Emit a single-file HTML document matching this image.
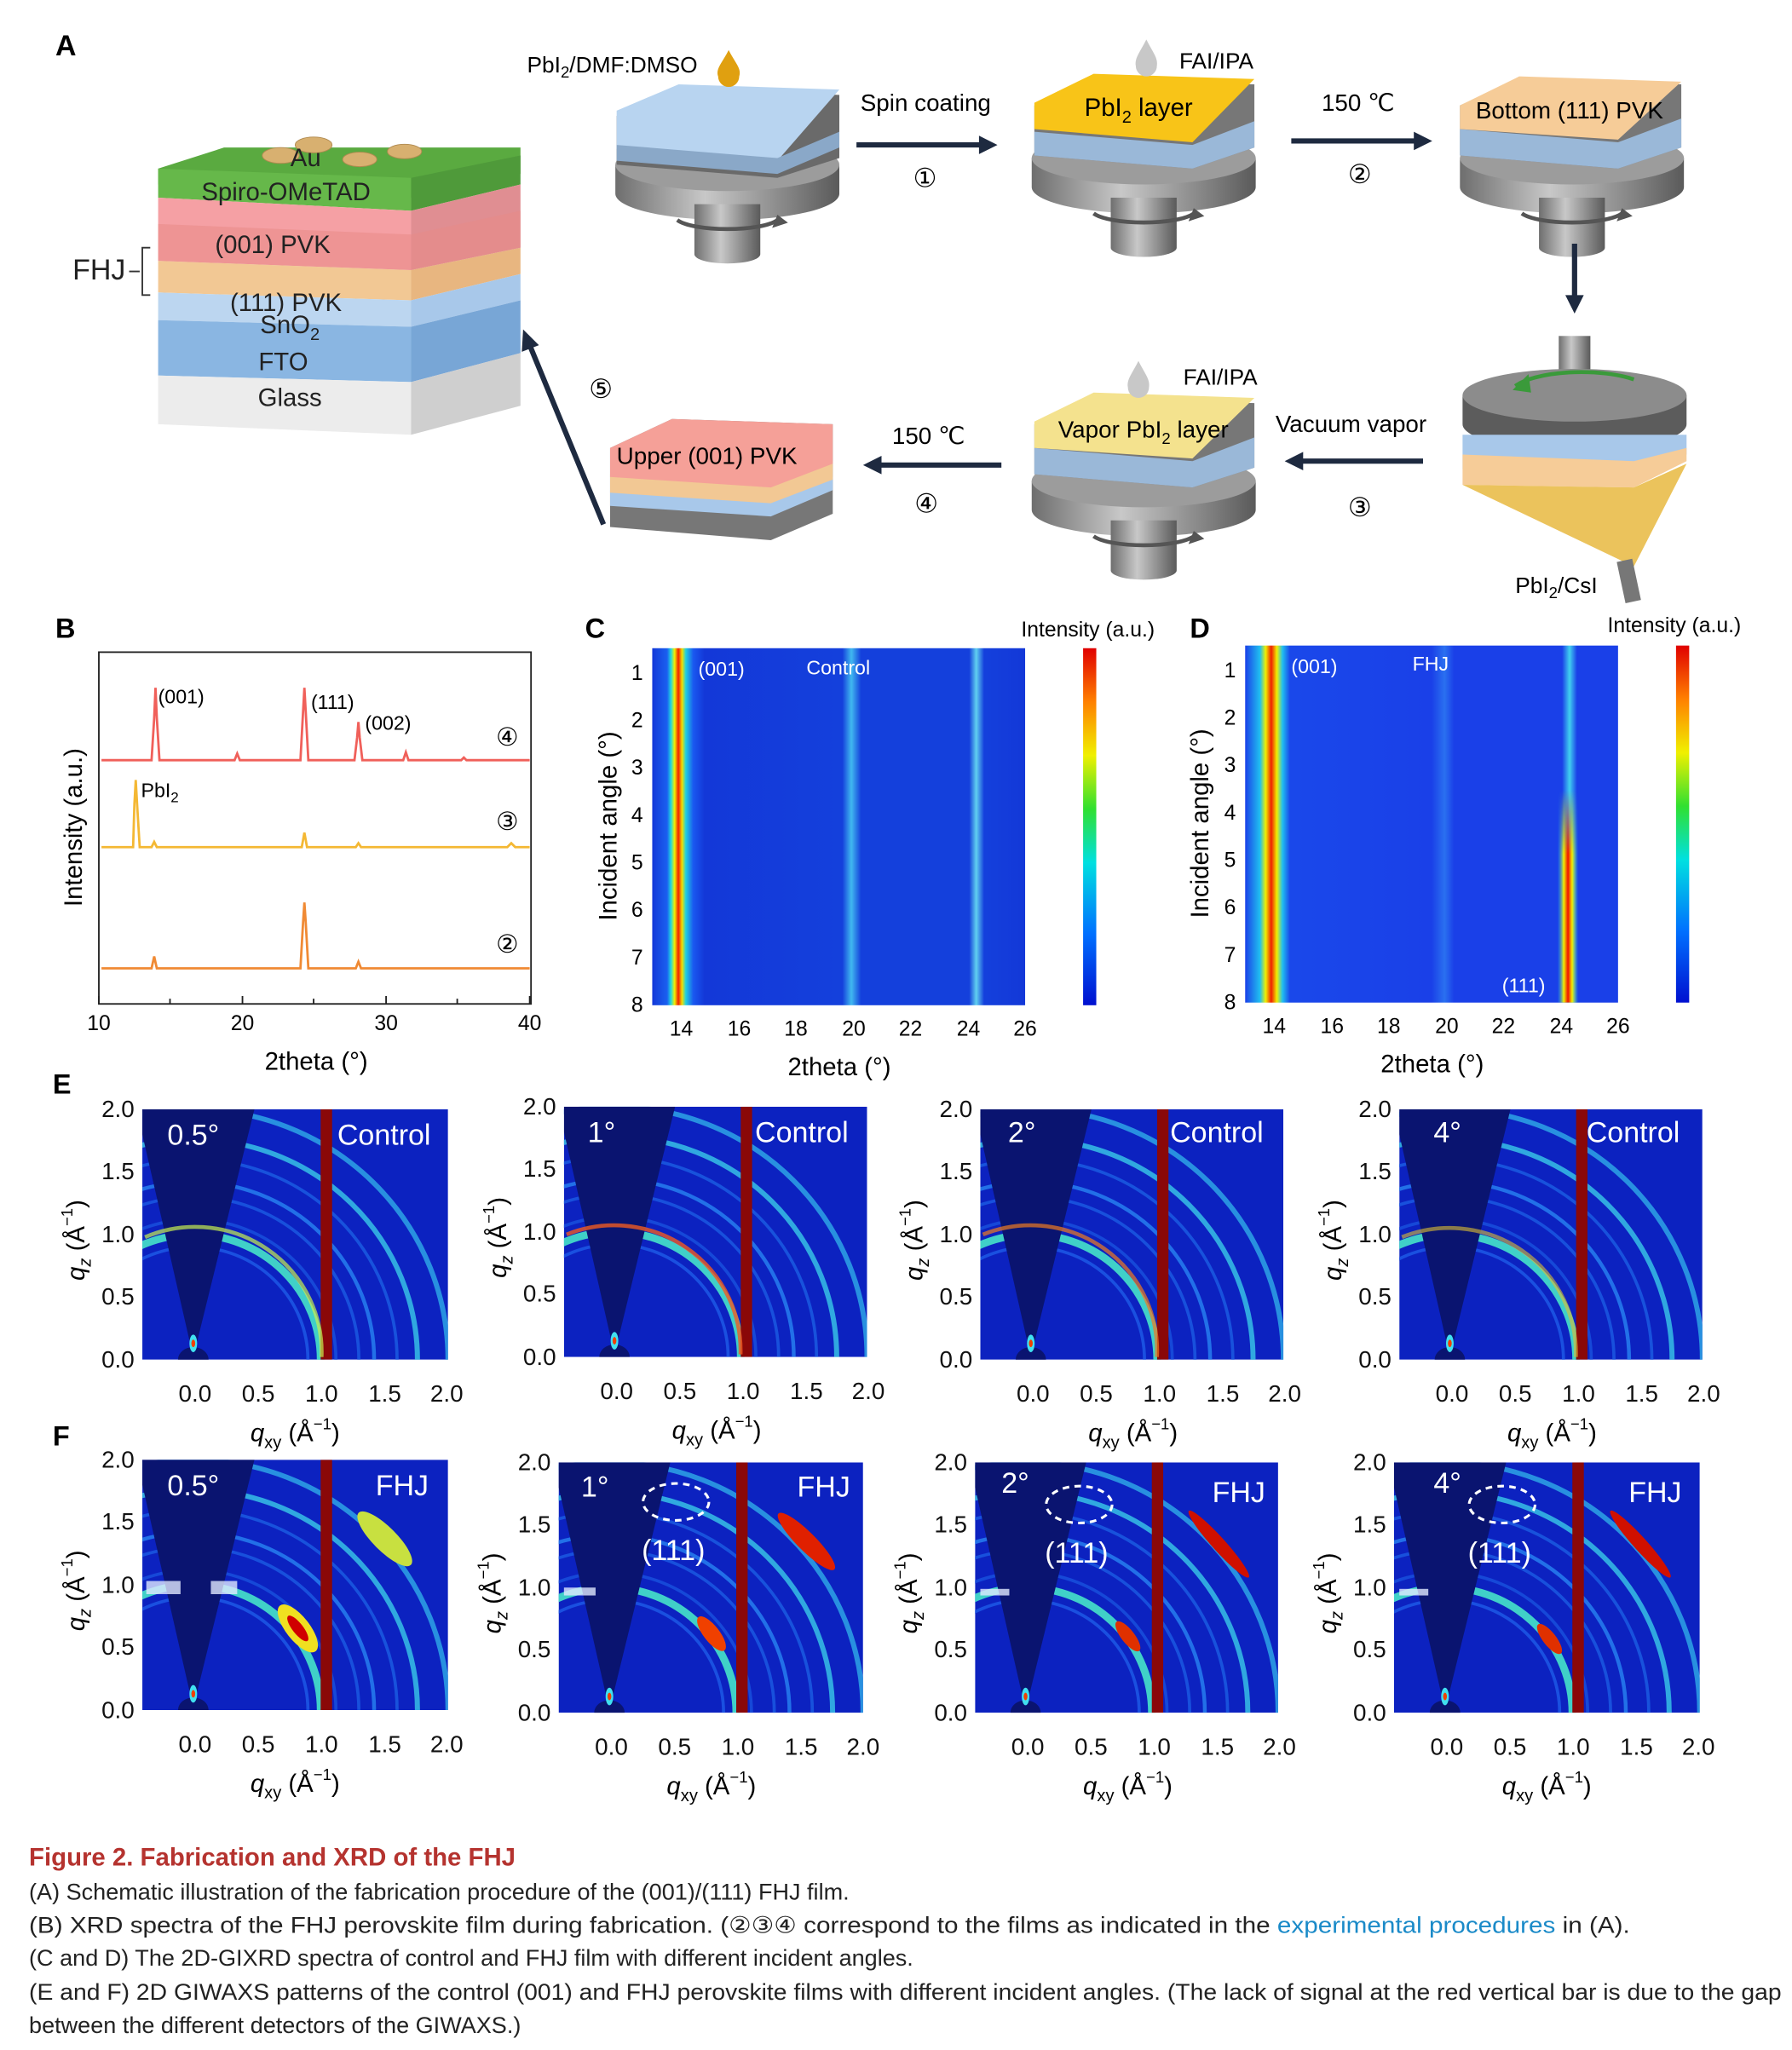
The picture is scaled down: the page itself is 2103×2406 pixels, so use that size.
<!DOCTYPE html>
<html><head><meta charset="utf-8"><style>
html,body{margin:0;padding:0;background:#fff;}
svg{display:block;}
text{font-family:"Liberation Sans",Arial,sans-serif;}
</style></head><body>
<svg width="2103" height="2406" viewBox="0 0 1360 1556" xmlns="http://www.w3.org/2000/svg">
<defs>
<linearGradient id="cb" x1="0" y1="0" x2="0" y2="1">
<stop offset="0" stop-color="#e00000"/><stop offset="0.15" stop-color="#ff8000"/><stop offset="0.3" stop-color="#f0f000"/><stop offset="0.45" stop-color="#30e030"/><stop offset="0.6" stop-color="#00e0e0"/><stop offset="0.8" stop-color="#0070ff"/><stop offset="1" stop-color="#0010d0"/></linearGradient>
<linearGradient id="hc" x1="0" y1="0" x2="1" y2="0">
<stop offset="0" stop-color="#1338d8"/><stop offset="0.04" stop-color="#1a60f0"/><stop offset="0.05" stop-color="#20d8e0"/><stop offset="0.06" stop-color="#f0f000"/><stop offset="0.07" stop-color="#f02000"/><stop offset="0.08" stop-color="#f0e000"/><stop offset="0.09" stop-color="#20d0e0"/><stop offset="0.11" stop-color="#1a58f0"/><stop offset="0.14" stop-color="#1338d8"/>
<stop offset="0.51" stop-color="#1440dc"/><stop offset="0.534" stop-color="#40b8f0"/><stop offset="0.56" stop-color="#1440dc"/>
<stop offset="0.85" stop-color="#1440dc"/><stop offset="0.869" stop-color="#60d0f0"/><stop offset="0.89" stop-color="#1440dc"/><stop offset="1" stop-color="#1338d8"/></linearGradient>
<linearGradient id="hd" x1="0" y1="0" x2="1" y2="0">
<stop offset="0" stop-color="#1a40e8"/><stop offset="0.04" stop-color="#20c0f0"/><stop offset="0.055" stop-color="#f0f000"/><stop offset="0.07" stop-color="#f02000"/><stop offset="0.085" stop-color="#f0f000"/><stop offset="0.1" stop-color="#20c0f0"/><stop offset="0.12" stop-color="#1a48ea"/><stop offset="0.5" stop-color="#1a40e8"/><stop offset="0.535" stop-color="#2a70f0"/><stop offset="0.56" stop-color="#1a40e8"/>
<stop offset="0.85" stop-color="#1a40e8"/><stop offset="0.87" stop-color="#40d0f0"/><stop offset="0.89" stop-color="#1a40e8"/><stop offset="1" stop-color="#1a40e8"/></linearGradient>
<linearGradient id="hd2" x1="0" y1="0" x2="1" y2="0">
<stop offset="0" stop-color="#20c0f0" stop-opacity="0"/><stop offset="0.3" stop-color="#f0f000"/><stop offset="0.5" stop-color="#f01000"/><stop offset="0.7" stop-color="#f0f000"/><stop offset="1" stop-color="#20c0f0" stop-opacity="0"/></linearGradient>
<linearGradient id="fadev" x1="0" y1="0" x2="0" y2="1"><stop offset="0" stop-color="#fff" stop-opacity="0"/><stop offset="0.3" stop-color="#fff" stop-opacity="1"/></linearGradient>
<mask id="fm"><rect x="1180" y="600" width="20" height="161" fill="url(#fadev)"/></mask>
<linearGradient id="gr" x1="0" y1="0" x2="1" y2="0"><stop offset="0" stop-color="#6e6e6e"/><stop offset="0.4" stop-color="#c8c8c8"/><stop offset="1" stop-color="#5a5a5a"/></linearGradient>
<clipPath id="pc"><rect x="0" y="0" width="240" height="200"/></clipPath>
<symbol id="gw" viewBox="0 0 240 200" width="240" height="200" preserveAspectRatio="none" overflow="hidden">
<g clip-path="url(#pc)">
<rect width="240" height="200" fill="#0c22c0"/>
<g fill="none">
<circle cx="40" cy="200" r="90" stroke="#1a50e0" stroke-width="2.5"/>
<circle cx="40" cy="200" r="112" stroke="#1648d8" stroke-width="2.5"/>
<circle cx="40" cy="200" r="130" stroke="#1850dc" stroke-width="2.5"/>
<circle cx="40" cy="200" r="142" stroke="#2270e8" stroke-width="3"/>
<circle cx="40" cy="200" r="160" stroke="#1852dc" stroke-width="2.5"/>
<circle cx="40" cy="200" r="176" stroke="#30a8e0" stroke-width="4"/>
<circle cx="40" cy="200" r="200" stroke="#2890e0" stroke-width="4"/>
<circle cx="40" cy="200" r="100" stroke="#40d0c8" stroke-width="6"/>
</g>
<polygon points="40,198 0,20 0,0 88,0" fill="#0a1470"/>
<ellipse cx="40" cy="200" rx="12" ry="10" fill="#0a1470"/>
<ellipse cx="40" cy="187" rx="3" ry="7" fill="#40e0f0"/>
<ellipse cx="40" cy="187" rx="1.5" ry="3" fill="#f04000"/>
<rect x="140" y="0" width="9" height="200" fill="#8a0808"/>
</g>
</symbol>
<symbol id="ax" overflow="visible">
<g font-size="18" fill="#111" text-anchor="end">
<text x="-6" y="6">2.0</text><text x="-6" y="53">1.5</text><text x="-6" y="101">1.0</text><text x="-6" y="148">0.5</text><text x="-6" y="196">0.0</text></g>
<g font-size="18" fill="#111" text-anchor="middle">
<text x="40" y="222">0.0</text><text x="88" y="222">0.5</text><text x="136" y="222">1.0</text><text x="184" y="222">1.5</text><text x="231" y="222">2.0</text></g>
<text x="82" y="252" font-size="19" font-style="italic">q<tspan font-size="13" dy="5" font-style="normal">xy</tspan><tspan dy="-5" font-style="normal"> (Å</tspan><tspan font-size="12" dy="-9" font-style="normal">−1</tspan><tspan dy="9" font-style="normal">)</tspan></text>
<text transform="translate(-44,130) rotate(-90)" font-size="19"><tspan font-style="italic">q</tspan><tspan font-size="13" dy="5" font-style="italic">z</tspan><tspan dy="-5"> (Å</tspan><tspan font-size="12" dy="-9">−1</tspan><tspan dy="9">)</tspan></text>
</symbol>
<symbol id="spin" overflow="visible">
<path d="M-85,20 L-85,42 A85,20 0 0 0 85,42 L85,20 Z" fill="url(#gr)"/>
<ellipse cx="0" cy="20" rx="85" ry="20" fill="#9c9c9c"/>
<path d="M-25,50 L-25,88 A25,7 0 0 0 25,88 L25,50 Z" fill="url(#gr)"/>
<path d="M-38,62 A40,10 0 0 0 38,62" fill="none" stroke="#555" stroke-width="3"/>
<polygon points="38,58 46,64 34,68" fill="#555"/>
</symbol>
</defs>

<!-- ===== Panel A ===== -->
<text x="42" y="42" font-size="22" font-weight="bold">A</text>
<g>
<polygon points="120,128 170,112 395,112 395,132 312,150 120,140" fill="#5aaa40"/>
<polygon points="120,128 312,135 312,160 120,150" fill="#66b84a"/>
<polygon points="312,135 395,118 395,140 312,160" fill="#4f9a3a"/>
<polygon points="120,150 312,160 312,205 120,198" fill="#f5a0a4"/>
<polygon points="312,160 395,140 395,188 312,205" fill="#e08e92"/>
<polygon points="120,198 312,205 312,228 120,222" fill="#f2c894"/>
<polygon points="312,205 395,188 395,208 312,228" fill="#e8b680"/>
<polygon points="120,170 312,178 395,160 395,188 312,205 120,198" fill="#e88a86" opacity="0.55"/>
<polygon points="120,222 312,228 312,248 120,243" fill="#bcd6f0"/>
<polygon points="312,228 395,208 395,228 312,248" fill="#a8c8ea"/>
<polygon points="120,243 312,248 312,290 120,285" fill="#8ab6e2"/>
<polygon points="312,248 395,228 395,268 312,290" fill="#78a6d6"/>
<polygon points="120,285 312,290 312,330 120,322" fill="#ececec"/>
<polygon points="312,290 395,268 395,308 312,330" fill="#cfcfcf"/>
<g fill="#d8b070" stroke="#b08a50" stroke-width="0.6"><ellipse cx="213" cy="118" rx="14" ry="6"/><ellipse cx="238" cy="110" rx="14" ry="6"/><ellipse cx="273" cy="121" rx="13" ry="5.5"/><ellipse cx="307" cy="115" rx="13" ry="5.5"/></g>
<g font-size="19" fill="#222" text-anchor="middle">
<text x="232" y="126">Au</text><text x="217" y="152">Spiro-OMeTAD</text><text x="207" y="192">(001) PVK</text><text x="217" y="236">(111) PVK</text><text x="220" y="253">SnO<tspan font-size="13" dy="5">2</tspan></text><text x="215" y="281">FTO</text><text x="220" y="308">Glass</text></g>
<text x="55" y="212" font-size="22" fill="#222">FHJ</text>
<path d="M98,206 L106,206 M114,188 L108,188 L108,224 L114,224" fill="none" stroke="#333" stroke-width="1.2"/>
</g>
<use href="#spin" x="552" y="105"/>
<polygon points="468,88 515,68 637,72 637,120 590,135 468,125" fill="#6a6a6a"/>
<polygon points="468,84 515,64 637,68 590,122 468,113" fill="#b8d4f0"/>
<polygon points="468,110 590,120 637,100 637,112 590,132 468,122" fill="#8aa8c8"/>
<path d="M553,38 C548,48 543,52 545,58 A8,8 0 0 0 561,58 C563,52 558,48 553,38Z" fill="#e0a010"/>
<text x="400" y="55" font-size="17">PbI<tspan font-size="12" dy="4">2</tspan><tspan dy="-4">/DMF:DMSO</tspan></text>
<text x="653" y="84" font-size="18">Spin coating</text>
<path d="M650,110 L745,110" stroke="#1e2a40" stroke-width="4"/><polygon points="757,110 743,103 743,117" fill="#1e2a40"/>
<text x="702" y="142" font-size="20" text-anchor="middle">①</text>
<use href="#spin" x="868" y="100"/>
<polygon points="785,80 830,60 952,64 952,112 905,128 785,118" fill="#777"/>
<polygon points="785,100 905,110 952,92 952,112 905,128 785,118" fill="#9ab8d8"/>
<polygon points="785,78 830,56 952,60 905,108 785,98" fill="#f8c418"/>
<path d="M870,30 C865,40 861,44 862,50 A8,8 0 0 0 878,50 C879,44 875,40 870,30Z" fill="#c8c8c8"/>
<text x="895" y="52" font-size="17">FAI/IPA</text>
<text x="823" y="88" font-size="19">PbI<tspan font-size="13" dy="5">2</tspan><tspan dy="-5"> layer</tspan></text>
<text x="1003" y="84" font-size="18">150 ℃</text>
<path d="M980,107 L1075,107" stroke="#1e2a40" stroke-width="4"/><polygon points="1087,107 1073,100 1073,114" fill="#1e2a40"/>
<text x="1032" y="139" font-size="20" text-anchor="middle">②</text>
<use href="#spin" x="1193" y="100"/>
<polygon points="1108,80 1153,60 1276,64 1276,112 1228,128 1108,118" fill="#777"/>
<polygon points="1108,98 1228,108 1276,90 1276,112 1228,128 1108,118" fill="#9ab8d8"/>
<polygon points="1108,80 1153,58 1276,62 1228,106 1108,98" fill="#f6cc98"/>
<text x="1120" y="90" font-size="18">Bottom (111) PVK</text>
<path d="M1195,185 L1195,226" stroke="#1e2a40" stroke-width="4"/><polygon points="1195,238 1188,224 1202,224" fill="#1e2a40"/>
<rect x="1183" y="255" width="24" height="45" fill="url(#gr)"/>
<path d="M1110,300 L1110,322 A85,20 0 0 0 1280,322 L1280,300 Z" fill="#5c5c5c"/>
<ellipse cx="1195" cy="300" rx="85" ry="20" fill="#8c8c8c"/>
<polygon points="1110,330 1280,330 1280,345 1240,362 1110,356" fill="#a8c8ea"/>
<polygon points="1110,345 1240,350 1280,340 1280,350 1240,370 1110,368" fill="#f6cc98"/>
<polygon points="1110,368 1240,370 1280,352 1240,430" fill="#e8b840" opacity="0.85"/>
<rect x="1230" y="425" width="12" height="32" fill="#777" transform="rotate(-12 1236 440)"/>
<path d="M1150,293 A55,18 0 0 1 1240,288" fill="none" stroke="#3a9a3a" stroke-width="3"/><polygon points="1148,296 1160,284 1162,298" fill="#3a9a3a"/>
<text x="1150" y="450" font-size="17">PbI<tspan font-size="12" dy="4">2</tspan><tspan dy="-4">/CsI</tspan></text>
<use href="#spin" x="868" y="345"/>
<polygon points="785,322 830,302 952,306 952,355 905,370 785,360" fill="#777"/>
<polygon points="785,340 905,350 952,332 952,355 905,370 785,360" fill="#9ab8d8"/>
<polygon points="785,320 830,298 952,302 905,348 785,340" fill="#f4e28e"/>
<path d="M864,274 C859,284 855,288 856,294 A8,8 0 0 0 872,294 C873,288 869,284 864,274Z" fill="#c8c8c8"/>
<text x="898" y="292" font-size="17">FAI/IPA</text>
<text x="803" y="332" font-size="18">Vapor PbI<tspan font-size="12" dy="5">2</tspan><tspan dy="-5"> layer</tspan></text>
<text x="968" y="328" font-size="18">Vacuum vapor</text>
<path d="M1080,350 L987,350" stroke="#1e2a40" stroke-width="4"/><polygon points="975,350 989,343 989,357" fill="#1e2a40"/>
<text x="1032" y="392" font-size="20" text-anchor="middle">③</text>
<text x="677" y="337" font-size="18">150 ℃</text>
<path d="M760,353 L667,353" stroke="#1e2a40" stroke-width="4"/><polygon points="655,353 669,346 669,360" fill="#1e2a40"/>
<text x="703" y="389" font-size="20" text-anchor="middle">④</text>
<polygon points="463,340 510,318 632,322 632,390 585,410 463,400" fill="#777"/>
<polygon points="463,372 585,380 632,362 632,372 585,392 463,384" fill="#a8c8ea"/>
<polygon points="463,360 585,368 632,350 632,364 585,382 463,374" fill="#f2c894"/>
<polygon points="463,340 510,318 632,322 632,352 585,370 463,362" fill="#f5a098"/>
<text x="468" y="352" font-size="18">Upper (001) PVK</text>
<path d="M458,398 L402,262" stroke="#1e2a40" stroke-width="4"/><polygon points="397,250 396,267 409,262" fill="#1e2a40"/>
<text x="456" y="302" font-size="20" text-anchor="middle">⑤</text>

<!-- ===== Panel B ===== -->
<text x="42" y="484" font-size="21" font-weight="bold">B</text>
<rect x="75" y="495" width="328" height="267" fill="none" stroke="#222" stroke-width="1.2"/>
<g stroke="#222" stroke-width="1.2"><path d="M75,762 v-6 M129,762 v-4 M184,762 v-6 M238,762 v-4 M293,762 v-6 M347,762 v-4 M402,762 v-6"/></g>
<g font-size="16" text-anchor="middle"><text x="75" y="782">10</text><text x="184" y="782">20</text><text x="293" y="782">30</text><text x="402" y="782">40</text></g>
<text x="240" y="812" font-size="19" text-anchor="middle">2theta (°)</text>
<text transform="translate(62,628) rotate(-90)" font-size="19" text-anchor="middle">Intensity (a.u.)</text>
<polyline fill="none" stroke="#f0605a" stroke-width="1.8" points="77,577 115,577 117,545 118,522 119,545 121,577 178,577 180,572 182,577 228,577 230,540 231,522 232,540 234,577 269,577 271,560 272,548 273,560 275,577 306,577 308,571 310,577 350,577 352,575 354,577 402,577"/>
<polyline fill="none" stroke="#f4b834" stroke-width="1.8" points="77,643 101,643 102,610 103,592 104,610 106,643 115,643 117,639 119,643 229,643 231,632 233,643 270,643 272,640 274,643 385,643 388,640 391,643 402,643"/>
<polyline fill="none" stroke="#f08a34" stroke-width="1.8" points="77,735 115,735 117,726 119,735 228,735 230,700 231,685 232,700 234,735 270,735 272,730 274,735 402,735"/>
<g font-size="15"><text x="120" y="534">(001)</text><text x="236" y="538">(111)</text><text x="277" y="554">(002)</text><text x="107" y="605">PbI<tspan font-size="11" dy="4">2</tspan></text></g>
<g font-size="19" text-anchor="middle"><text x="385" y="566">④</text><text x="385" y="630">③</text><text x="385" y="723">②</text></g>

<!-- ===== Panel C ===== -->
<text x="444" y="484" font-size="21" font-weight="bold">C</text>
<rect x="495" y="492" width="283" height="271" fill="url(#hc)"/>
<rect x="822" y="492" width="10" height="271" fill="url(#cb)"/>
<text x="775" y="483" font-size="16">Intensity (a.u.)</text>
<text x="530" y="513" font-size="15" fill="#fff">(001)</text><text x="612" y="512" font-size="15" fill="#fff">Control</text>
<g font-size="16" text-anchor="end"><text x="488" y="516">1</text><text x="488" y="552">2</text><text x="488" y="588">3</text><text x="488" y="624">4</text><text x="488" y="660">5</text><text x="488" y="696">6</text><text x="488" y="732">7</text><text x="488" y="768">8</text></g>
<g font-size="16" text-anchor="middle"><text x="517" y="786">14</text><text x="561" y="786">16</text><text x="604" y="786">18</text><text x="648" y="786">20</text><text x="691" y="786">22</text><text x="735" y="786">24</text><text x="778" y="786">26</text></g>
<text transform="translate(468,627) rotate(-90)" font-size="19" text-anchor="middle">Incident angle (°)</text>
<text x="637" y="816" font-size="19" text-anchor="middle">2theta (°)</text>

<!-- ===== Panel D ===== -->
<text x="903" y="484" font-size="21" font-weight="bold">D</text>
<rect x="945" y="490" width="283" height="271" fill="url(#hd)"/>
<rect x="1182" y="600" width="16" height="161" fill="url(#hd2)" mask="url(#fm)"/>
<rect x="1272" y="490" width="10" height="271" fill="url(#cb)"/>
<text x="1220" y="480" font-size="16">Intensity (a.u.)</text>
<text x="980" y="511" font-size="15" fill="#fff">(001)</text><text x="1072" y="509" font-size="15" fill="#fff">FHJ</text>
<text x="1140" y="753" font-size="15" fill="#fff">(111)</text>
<g font-size="16" text-anchor="end"><text x="938" y="514">1</text><text x="938" y="550">2</text><text x="938" y="586">3</text><text x="938" y="622">4</text><text x="938" y="658">5</text><text x="938" y="694">6</text><text x="938" y="730">7</text><text x="938" y="766">8</text></g>
<g font-size="16" text-anchor="middle"><text x="967" y="784">14</text><text x="1011" y="784">16</text><text x="1054" y="784">18</text><text x="1098" y="784">20</text><text x="1141" y="784">22</text><text x="1185" y="784">24</text><text x="1228" y="784">26</text></g>
<text transform="translate(917,625) rotate(-90)" font-size="19" text-anchor="middle">Incident angle (°)</text>
<text x="1087" y="814" font-size="19" text-anchor="middle">2theta (°)</text>

<!-- ===== Panel E ===== -->
<text x="40" y="830" font-size="21" font-weight="bold">E</text>
<use href="#gw" x="108" y="842" width="232" height="190"/>
<use href="#gw" x="428" y="840" width="230" height="190"/>
<use href="#gw" x="744" y="842" width="230" height="190"/>
<use href="#gw" x="1062" y="842" width="230" height="190"/>
<g fill="none" stroke-width="3">
<path d="M110,939 A96,95 0 0 1 244,1030" stroke="#c8f050" opacity="0.7"/>
<path d="M430,937 A96,95 0 0 1 562,1028" stroke="#f05a20" opacity="0.8"/>
<path d="M746,937 A96,95 0 0 1 878,1030" stroke="#f07a20" opacity="0.7"/>
<path d="M1064,939 A96,95 0 0 1 1196,1030" stroke="#e0c030" opacity="0.6"/>
</g>
<use href="#ax" x="108" y="842"/><use href="#ax" x="428" y="840"/><use href="#ax" x="744" y="842"/><use href="#ax" x="1062" y="842"/>
<g font-size="22" fill="#fff"><text x="127" y="869">0.5°</text><text x="256" y="869">Control</text>
<text x="446" y="867">1°</text><text x="573" y="867">Control</text>
<text x="765" y="867">2°</text><text x="888" y="867">Control</text>
<text x="1088" y="867">4°</text><text x="1204" y="867">Control</text></g>

<!-- ===== Panel F ===== -->
<text x="40" y="1097" font-size="21" font-weight="bold">F</text>
<use href="#gw" x="108" y="1108" width="232" height="190"/>
<use href="#gw" x="424" y="1110" width="231" height="190"/>
<use href="#gw" x="740" y="1110" width="230" height="190"/>
<use href="#gw" x="1058" y="1110" width="232" height="190"/>
<g>
<ellipse cx="226" cy="1236" rx="9" ry="22" fill="#f0e020" transform="rotate(-38 226 1236)"/><ellipse cx="226" cy="1236" rx="4" ry="12" fill="#d00000" transform="rotate(-38 226 1236)"/>
<ellipse cx="292" cy="1168" rx="9" ry="28" fill="#c8e040" transform="rotate(-45 292 1168)"/>
<ellipse cx="540" cy="1240" rx="6" ry="16" fill="#f04000" transform="rotate(-38 540 1240)"/>
<ellipse cx="612" cy="1170" rx="7" ry="30" fill="#e02000" transform="rotate(-45 612 1170)"/>
<ellipse cx="856" cy="1242" rx="5" ry="14" fill="#e03000" transform="rotate(-38 856 1242)"/>
<ellipse cx="925" cy="1172" rx="5" ry="34" fill="#d01000" transform="rotate(-42 925 1172)"/>
<ellipse cx="1176" cy="1244" rx="5" ry="14" fill="#e03000" transform="rotate(-38 1176 1244)"/>
<ellipse cx="1245" cy="1172" rx="5" ry="34" fill="#d01000" transform="rotate(-42 1245 1172)"/>
<g fill="#e0e8ff" opacity="0.8"><rect x="111" y="1200" width="26" height="10"/><rect x="160" y="1200" width="20" height="10"/><rect x="428" y="1205" width="24" height="6"/><rect x="744" y="1206" width="22" height="5"/><rect x="1062" y="1206" width="22" height="5"/></g>
</g>
<g fill="none" stroke="#fff" stroke-width="2" stroke-dasharray="5,4">
<ellipse cx="513" cy="1140" rx="25" ry="14"/><ellipse cx="819" cy="1142" rx="25" ry="14"/><ellipse cx="1140" cy="1142" rx="25" ry="14"/></g>
<use href="#ax" x="108" y="1108"/><use href="#ax" x="424" y="1110"/><use href="#ax" x="740" y="1110"/><use href="#ax" x="1058" y="1110"/>
<g font-size="22" fill="#fff"><text x="127" y="1135">0.5°</text><text x="285" y="1135">FHJ</text>
<text x="441" y="1136">1°</text><text x="605" y="1136">FHJ</text><text x="487" y="1184">(111)</text>
<text x="760" y="1133">2°</text><text x="920" y="1140">FHJ</text><text x="793" y="1186">(111)</text>
<text x="1088" y="1133">4°</text><text x="1236" y="1140">FHJ</text><text x="1114" y="1186">(111)</text></g>

<!-- ===== Caption ===== -->
<text x="22" y="1416" font-size="19" font-weight="bold" fill="#b5332f">Figure 2.  Fabrication and XRD of the FHJ</text>
<g font-size="17.5" fill="#222">
<text x="22" y="1442">(A) Schematic illustration of the fabrication procedure of the (001)/(111) FHJ film.</text>
<text x="22" y="1467" textLength="1215" lengthAdjust="spacingAndGlyphs">(B) XRD spectra of the FHJ perovskite film during fabrication. (②③④ correspond to the films as indicated in the <tspan fill="#1a8ac8">experimental procedures</tspan> in (A).</text>
<text x="22" y="1492">(C and D) The 2D-GIXRD spectra of control and FHJ film with different incident angles.</text>
<text x="22" y="1518" textLength="1330" lengthAdjust="spacingAndGlyphs">(E and F) 2D GIWAXS patterns of the control (001) and FHJ perovskite films with different incident angles. (The lack of signal at the red vertical bar is due to the gap</text>
<text x="22" y="1543">between the different detectors of the GIWAXS.)</text>
</g>
</svg>
</body></html>
